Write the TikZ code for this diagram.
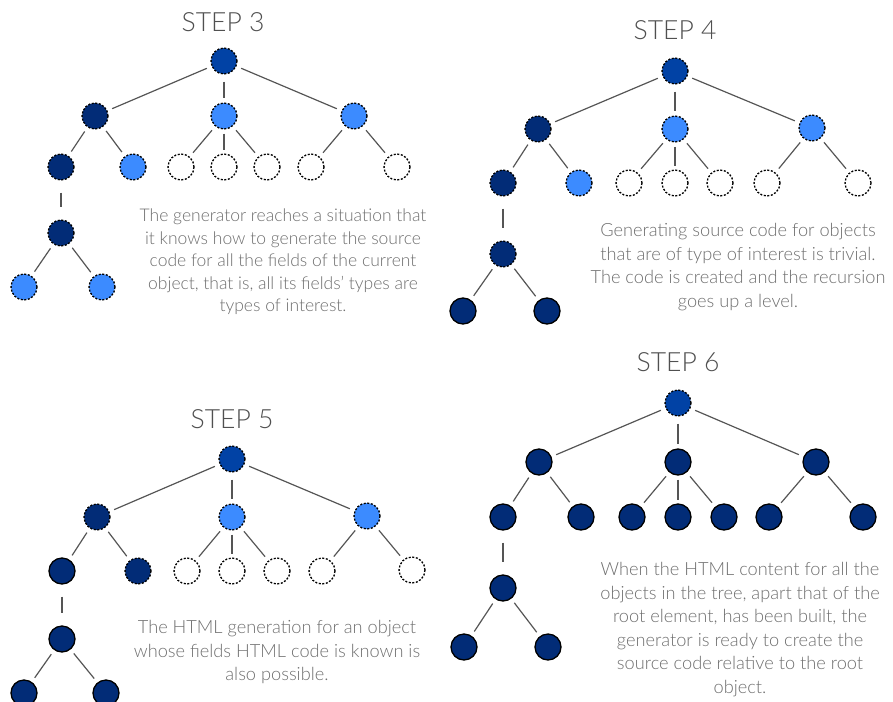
\documentclass[tikz,border=0pt]{standalone}
\usepackage{fontspec}
\setmainfont{Lato Light}
\definecolor{navy}{HTML}{022C77}
\definecolor{rootblue}{HTML}{0142A5}
\definecolor{lightblue}{HTML}{3C8BFF}
\definecolor{edgegray}{HTML}{555555}
\definecolor{textgray}{HTML}{6E6E6E}
\definecolor{titlegray}{HTML}{505050}
\tikzset{
  nd/.style={circle, minimum size=26pt, inner sep=0pt, line width=1.3pt},
  dsh/.style={nd, draw=black, dash pattern=on 2pt off 1.6pt},
  navyd/.style={dsh, fill=navy},
  blued/.style={dsh, fill=rootblue},
  lightd/.style={dsh, fill=lightblue},
  emptyd/.style={dsh, fill=white},
  navys/.style={nd, draw=black, fill=navy},
  edge/.style={draw=edgegray, line width=1.2pt, shorten <=5pt, shorten >=5pt},
  vtopedge/.style={edge, shorten <=7pt, shorten >=4pt},
  longedge/.style={edge, shorten <=12pt, shorten >=12pt},
  txt/.style={align=center, font=\fontsize{18.2}{23.6}\selectfont, text=textgray, inner sep=0pt},
  txtb/.style={txt, font=\fontsize{17.5}{22.4}\selectfont},
  ttl/.style={font=\fontsize{26.5}{30}\selectfont, text=titlegray, inner sep=0pt}
}
\begin{document}
\begin{tikzpicture}[x=1pt,y=-1pt]
\useasboundingbox (0,0) rectangle (893,701);
\clip (0,0) rectangle (893,701);

% ---------- STEP 3 ----------
\node[ttl] (t3) at (223,22) {STEP 3};
\node[blued]  (s3-r) at (224,61) {};
\node[navyd]  (s3-a) at (95,116) {};
\node[lightd] (s3-b) at (224,116) {};
\node[lightd] (s3-c) at (354,116) {};
\node[navyd]  (s3-d) at (61,167) {};
\node[lightd] (s3-e) at (133,167) {};
\node[emptyd] (s3-f) at (181,167) {};
\node[emptyd] (s3-g) at (224,167) {};
\node[emptyd] (s3-h) at (267,167) {};
\node[emptyd] (s3-i) at (311,167) {};
\node[emptyd] (s3-j) at (397,167) {};
\node[navyd]  (s3-k) at (61,233) {};
\node[lightd] (s3-l) at (24,287) {};
\node[lightd] (s3-m) at (102,287) {};
\node[txtb, anchor=north] (d3) at (283,209) {The generator reaches a situation that\\it knows how to generate the source\\code for all the fields of the current\\object, that is, all its fields' types are\\types of interest.};

% ---------- STEP 4 ----------
\node[ttl] (t4) at (675,30) {STEP 4};
\node[blued]  (s4-r) at (675,71) {};
\node[navyd]  (s4-a) at (538,129) {};
\node[lightd] (s4-b) at (675,129) {};
\node[lightd] (s4-c) at (812,128) {};
\node[navyd]  (s4-d) at (503,183) {};
\node[lightd] (s4-e) at (579,183) {};
\node[emptyd] (s4-f) at (629,183) {};
\node[emptyd] (s4-g) at (675,183) {};
\node[emptyd] (s4-h) at (720,183) {};
\node[emptyd] (s4-i) at (767,183) {};
\node[emptyd] (s4-j) at (858,183) {};
\node[navyd]  (s4-k) at (503,254) {};
\node[navys]  (s4-l) at (463,311) {};
\node[navys]  (s4-m) at (547,311) {};
\node[txt, anchor=north] (d4) at (738,223) {Generating source code for objects\\that are of type of interest is trivial.\\The code is created and the recursion\\goes up a level.};

% ---------- STEP 5 ----------
\node[ttl] (t5) at (232,419) {STEP 5};
\node[blued]  (s5-r) at (232,459) {};
\node[navyd]  (s5-a) at (97,517) {};
\node[lightd] (s5-b) at (232,517) {};
\node[lightd] (s5-c) at (367,516) {};
\node[navys]  (s5-d) at (62,571) {};
\node[navyd]  (s5-e) at (138,571) {};
\node[emptyd] (s5-f) at (187,571) {};
\node[emptyd] (s5-g) at (232,571) {};
\node[emptyd] (s5-h) at (277,571) {};
\node[emptyd] (s5-i) at (322,571) {};
\node[emptyd] (s5-j) at (412,570) {};
\node[navys]  (s5-k) at (62,639) {};
\node[navys]  (s5-l) at (24,693) {};
\node[navys]  (s5-m) at (106,693) {};
\node[txt, anchor=north] (d5) at (277,620) {The HTML generation for an object\\whose fields HTML code is known is\\also possible.};

% ---------- STEP 6 ----------
\node[ttl] (t6) at (678,362) {STEP 6};
\node[blued] (s6-r) at (678,403) {};
\node[navys] (s6-a) at (539,462) {};
\node[navys] (s6-b) at (678,462) {};
\node[navys] (s6-c) at (816,462) {};
\node[navys] (s6-d) at (503,517) {};
\node[navys] (s6-e) at (581,517) {};
\node[navys] (s6-f) at (632,517) {};
\node[navys] (s6-g) at (678,517) {};
\node[navys] (s6-h) at (724,517) {};
\node[navys] (s6-i) at (769,517) {};
\node[navys] (s6-j) at (863,517) {};
\node[navys] (s6-k) at (503,588) {};
\node[navys] (s6-l) at (464,647) {};
\node[navys] (s6-m) at (548,647) {};
\node[txt, anchor=north] (d6) at (740,562) {When the HTML content for all the\\objects in the tree, apart that of the\\root element, has been built, the\\generator is ready to create the\\source code relative to the root\\object.};

% ---------- edges ----------
\foreach \s in {3,4,5,6}{
  \draw[edge] (s\s-r) -- (s\s-a);
  \draw[vtopedge] (s\s-r) -- (s\s-b);
  \draw[edge] (s\s-r) -- (s\s-c);
  \draw[edge] (s\s-a) -- (s\s-d);
  \draw[edge] (s\s-a) -- (s\s-e);
  \draw[edge] (s\s-b) -- (s\s-f);
  \draw[edge, shorten <=4pt, shorten >=3pt] (s\s-b) -- (s\s-g);
  \draw[edge] (s\s-b) -- (s\s-h);
  \draw[edge] (s\s-c) -- (s\s-i);
  \draw[edge] (s\s-c) -- (s\s-j);
  \draw[longedge] (s\s-d) -- (s\s-k);
  \draw[edge] (s\s-k) -- (s\s-l);
  \draw[edge] (s\s-k) -- (s\s-m);
}
\end{tikzpicture}
\end{document}
